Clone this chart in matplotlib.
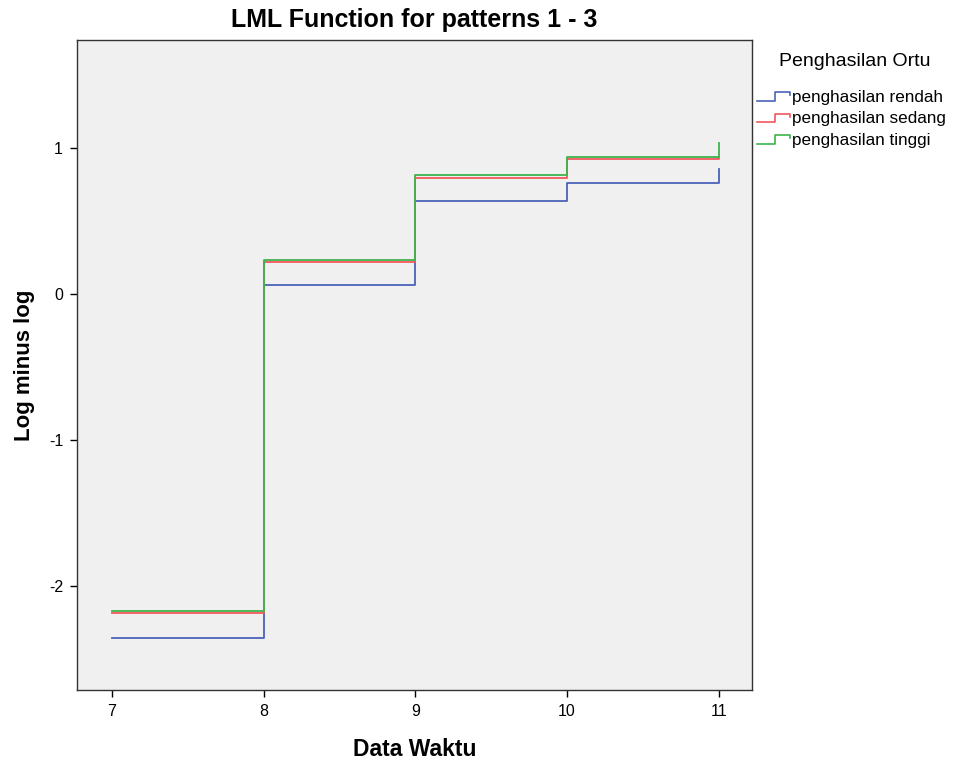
import matplotlib
matplotlib.use('Agg')
import matplotlib.pyplot as plt
from matplotlib.legend_handler import HandlerBase
from matplotlib.lines import Line2D

plt.rcParams['font.family'] = ['Liberation Sans', 'DejaVu Sans']
plt.rcParams['axes.unicode_minus'] = False

# Log minus log values, step function over time
times = [7, 8, 9, 10, 11]
rendah = [-2.355, 0.063, 0.637, 0.764, 0.856]
sedang = [-2.185, 0.219, 0.797, 0.922, 0.93]
tinggi = [-2.171, 0.237, 0.817, 0.936, 1.036]
series_names = ['penghasilan rendah', 'penghasilan sedang', 'penghasilan tinggi']
colors = ['#4a63b8', '#f0585c', '#3cb44b']


class StepHandler(HandlerBase):
    # little step icon like the SPSS legend
    def create_artists(self, legend, orig_handle, xd, yd, width, height, fontsize, trans):
        x0 = -xd
        y0 = -yd + height * 0.1
        y1 = -yd + height * 0.8
        xs = [x0, x0 + width * 0.55, x0 + width * 0.55, x0 + width, x0 + width]
        ys = [y0, y0, y1, y1, y1 - (y1 - y0) * 0.35]
        ln = Line2D(xs, ys, color=orig_handle.get_color(), lw=1.2, transform=trans)
        return [ln]


fig = plt.figure(figsize=(9.55, 7.65), dpi=100)
ax = fig.add_axes([0.0806, 0.098, 0.7068, 0.8497])
ax.set_facecolor('#f0f0f0')

handles = []
for vals, name, c in zip([rendah, sedang, tinggi], series_names, colors):
    h, = ax.plot(times, vals, drawstyle='steps-post', color=c, lw=1.3, label=name)
    handles.append(h)

ax.set_xlim(6.77, 11.22)
ax.set_ylim(-2.71, 1.74)
ax.set_xticks(times)
ax.set_yticks([-2, -1, 0, 1])
ax.tick_params(direction='out', length=5, width=1, labelsize=11.5, colors='black', pad=5)
for s in ax.spines.values():
    s.set_linewidth(1.0)
    s.set_color('#333333')

ax.set_title('LML Function for patterns 1 - 3', fontsize=18, fontweight='bold', pad=9.5)
ax.set_xlabel('Data Waktu', fontsize=16.5, fontweight='bold', labelpad=14)
ax.set_ylabel('Log minus log', fontsize=16, fontweight='bold', labelpad=10)

fig.text(855 / 955, 1 - 62 / 765, 'Penghasilan Ortu', ha='center', va='center', fontsize=14)
leg = fig.legend(handles=handles, labels=series_names,
                 loc='upper left', bbox_to_anchor=(757 / 955, 1 - 90 / 765), frameon=False,
                 handler_map={Line2D: StepHandler()}, fontsize=12.3,
                 handlelength=1.95, handletextpad=0.1, labelspacing=0.38,
                 borderaxespad=0, borderpad=0)

fig.savefig('out.png', dpi=100)
